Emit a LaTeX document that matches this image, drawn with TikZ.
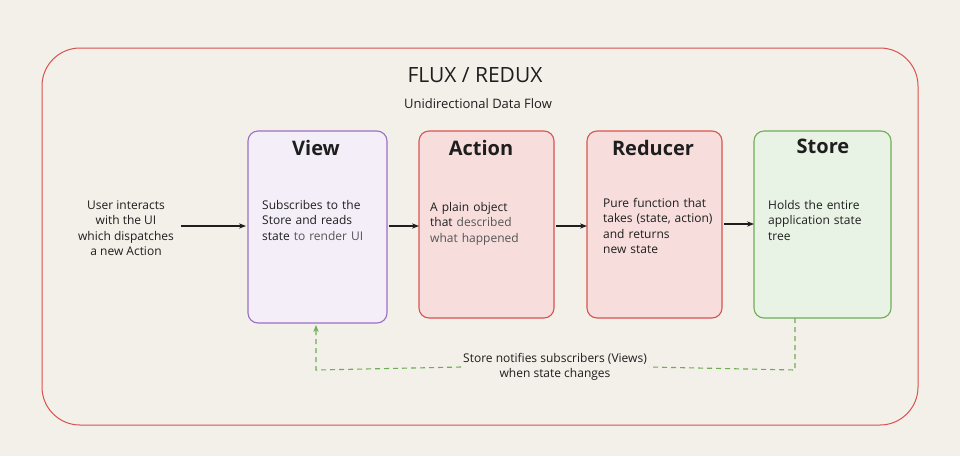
\documentclass[tikz,border=0pt]{standalone}
\usepackage{fontspec}
\setmainfont{Open Sans}
\usetikzlibrary{arrows.meta,patterns}
\definecolor{bg}{HTML}{F3EFE9}
\definecolor{redl}{HTML}{D9534F}
\definecolor{purp}{HTML}{9A6FC4}
\definecolor{grn}{HTML}{6FAE55}
\definecolor{txt}{HTML}{1E1E1E}
\definecolor{soft}{HTML}{555555}
\tikzset{
  card/.style={draw=#1, line width=1.1pt, rounded corners=10pt},
  cardtitle/.style={font=\fontsize{20}{22}\selectfont\bfseries, text=txt},
  body/.style={font=\fontsize{12}{15.5}\selectfont, text=txt, align=left, anchor=north west, text width=122pt, inner sep=0pt},
  arr/.style={-{Stealth[length=7pt]}, line width=1.3pt, txt}
}
\begin{document}
\begin{tikzpicture}[x=1pt,y=-1pt]
\useasboundingbox (0,0) rectangle (960,456);
\fill[bg] (0,0) rectangle (960,456);
\draw[card=redl, rounded corners=38pt, line width=1pt] (42,48) rectangle (918,425);
\node[font=\fontsize{21}{24}\selectfont, text=txt] (title) at (475,75) {FLUX / REDUX};
\node[font=\fontsize{13}{15}\selectfont, text=txt] (sub) at (478,104) {Unidirectional Data Flow};
% boxes
\draw[card=purp, fill=purp!12] (248,131) rectangle (387,323);
\coordinate (viewL) at (248,226); \coordinate (viewR) at (387,226); \coordinate (viewB) at (316,325);
\draw[card=redl, fill=redl!20] (419,131) rectangle (554,318);
\coordinate (actL) at (419,226); \coordinate (actR) at (554,226);
\draw[card=redl, fill=redl!20] (587,131) rectangle (722,318);
\coordinate (redL) at (587,226); \coordinate (redR) at (722,224);
\draw[card=grn, fill=grn!15] (754,131) rectangle (891,318);
\coordinate (stL) at (754,224); \coordinate (stB) at (795,318);
\node[cardtitle] (tv) at (316,148) {View};
\node[cardtitle] (ta) at (481,148) {Action};
\node[cardtitle] (tr) at (653,148) {Reducer};
\node[cardtitle] (ts) at (823,146) {Store};
\node[body] (bv) at (262,200) {Subscribes to the\\Store and reads\\state \textcolor{soft}{to render UI}};
\node[body] (ba) at (430,202) {A plain object\\that \textcolor{soft}{described}\\\textcolor{soft}{what happened}};
\node[body] (br) at (603,198) {Pure function that\\takes (state, action)\\and returns\\new state};
\node[body] (bs) at (768,200) {Holds the entire\\application state\\tree};
\node[font=\fontsize{12}{15.5}\selectfont, text=txt, align=center] (user) at (126,228) {User interacts\\with the UI\\which dispatches\\a new Action};
\draw[arr] (user.east) ++(4,-2) coordinate (uE) -- (246,226);
\draw[arr] (viewR) ++(2,0) -- (actL);
\draw[arr] (actR) ++(2,0) -- (redL);
\draw[arr] (redR) ++(2,0) -- (stL);
\node[font=\fontsize{12}{15.5}\selectfont, text=txt, align=center, fill=bg, inner sep=2pt] (note) at (555,367) {Store notifies subscribers (Views)\\when state changes};
\draw[grn, line width=1.1pt, dash pattern=on 5pt off 4pt] (stB) -- (795,370) -- (note.east);
\draw[grn, line width=1.1pt, dash pattern=on 5pt off 4pt, -{Stealth[length=7pt]}] (note.west) -- (316,370) -- (viewB);
\end{tikzpicture}
\end{document}
